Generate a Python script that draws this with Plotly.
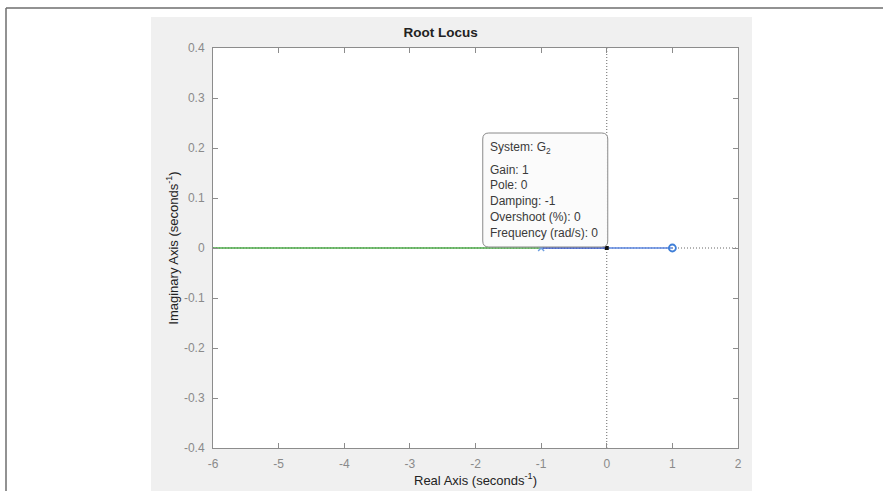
import plotly.graph_objects as go

# Root locus of G2: branches along the real axis, open-loop pole and zero
branch_a_re = [-6, -1]
branch_a_im = [0, 0]
branch_b_re = [-1, 0]
branch_b_im = [0, 0]
branch_c_re = [0, 1]
branch_c_im = [0, 0]
pole_re = [-1]
pole_im = [0]
zero_re = [1]
zero_im = [0]

# Data tip at the selected locus point
tip_re = [0]
tip_im = [0]
tip_lines = [
    "System: G<sub>2</sub>",
    "Gain: 1",
    "Pole: 0",
    "Damping: -1",
    "Overshoot (%): 0",
    "Frequency (rad/s): 0",
]

x_ticks = [-6, -5, -4, -3, -2, -1, 0, 1, 2]
x_tick_text = ["-6", "-5", "-4", "-3", "-2", "-1", "0", "1", "2"]
y_ticks = [-0.4, -0.3, -0.2, -0.1, 0, 0.1, 0.2, 0.3, 0.4]
y_tick_text = ["-0.4", "-0.3", "-0.2", "-0.1", "0", "0.1", "0.2", "0.3", "0.4"]

W, H = 883, 491
L, R, T, B = 213, 738, 48, 448  # plot area in pixels


def px(x):
    return (x - L) / (R - L)


def py(y):
    return (B - y) / (B - T)


FONT = "Liberation Sans, Arial, Helvetica, sans-serif"

fig = go.Figure()

# dotted real / imaginary axis lines
fig.add_trace(go.Scatter(x=[-6, 2], y=[0, 0], mode="lines",
                         line=dict(color="#666666", width=1, dash="1px,2px"),
                         hoverinfo="skip", showlegend=False))
fig.add_trace(go.Scatter(x=[0, 0], y=[-0.4, 0.4], mode="lines",
                         line=dict(color="#666666", width=1, dash="1px,2px"),
                         hoverinfo="skip", showlegend=False))

fig.add_trace(go.Scatter(x=branch_a_re, y=branch_a_im, mode="lines",
                         line=dict(color="#4caa48", width=1.6), showlegend=False))
fig.add_trace(go.Scatter(x=branch_c_re, y=branch_c_im, mode="lines",
                         line=dict(color="#5b86e0", width=1.6), showlegend=False))
fig.add_trace(go.Scatter(x=branch_b_re, y=branch_b_im, mode="lines",
                         line=dict(color="#2f52c8", width=1.6), showlegend=False))
fig.add_trace(go.Scatter(x=pole_re, y=pole_im, mode="markers",
                         marker=dict(symbol="x-thin", size=6, color="#6f9fe0",
                                     line=dict(color="#6f9fe0", width=1.5)),
                         showlegend=False))
fig.add_trace(go.Scatter(x=zero_re, y=zero_im, mode="markers",
                         marker=dict(symbol="circle-open", size=7, color="#3f7fd8",
                                     line=dict(color="#3f7fd8", width=1.8)),
                         showlegend=False))
fig.add_trace(go.Scatter(x=tip_re, y=tip_im, mode="markers",
                         marker=dict(symbol="square", size=4, color="#111111"),
                         showlegend=False))

shapes = [
    # grey figure window
    dict(type="rect", xref="paper", yref="paper", layer="below",
         x0=px(151), x1=px(752), y0=py(17), y1=py(491),
         fillcolor="#f0f0f0", line=dict(width=0)),
    # white axes background
    dict(type="rect", xref="paper", yref="paper", layer="below",
         x0=0, x1=1, y0=0, y1=1, fillcolor="white", line=dict(width=0)),
    # page border lines
    dict(type="line", xref="paper", yref="paper",
         x0=px(6), x1=px(883), y0=py(8), y1=py(8),
         line=dict(color="#6e6e6e", width=1.5)),
    dict(type="line", xref="paper", yref="paper",
         x0=px(6), x1=px(6), y0=py(8), y1=py(491),
         line=dict(color="#6e6e6e", width=1.5)),
]

# rounded data tip box anchored at the selected point (pixel offsets)
bx0, bx1, by0, by1, r = -124, 1, 1, 115, 6
path = (f"M {bx0 + r},{by0} L {bx1 - r},{by0} Q {bx1},{by0} {bx1},{by0 + r} "
        f"L {bx1},{by1 - r} Q {bx1},{by1} {bx1 - r},{by1} "
        f"L {bx0 + r},{by1} Q {bx0},{by1} {bx0},{by1 - r} "
        f"L {bx0},{by0 + r} Q {bx0},{by0} {bx0 + r},{by0} Z")
shapes.append(dict(type="path", path=path, xref="x", yref="y",
                   xsizemode="pixel", ysizemode="pixel",
                   xanchor=tip_re[0], yanchor=tip_im[0],
                   fillcolor="rgba(251,251,251,0.97)",
                   line=dict(color="#8a8a8a", width=1)))

annotations = []
line_offsets = [100, 78, 63, 47, 31, 15]
for text, dy in zip(tip_lines, line_offsets):
    annotations.append(dict(x=tip_re[0], y=tip_im[0], xref="x", yref="y",
                            text=text, showarrow=False, xanchor="left",
                            yanchor="middle", xshift=-119, yshift=dy,
                            font=dict(family=FONT, size=12, color="#3a3a3a")))

axis_common = dict(showline=True, linecolor="#8c8c8c", linewidth=1,
                   mirror="allticks", ticks="inside", ticklen=5,
                   tickcolor="#8c8c8c", showgrid=False, zeroline=False,
                   ticklabelstandoff=5, automargin=False,
                   tickfont=dict(family=FONT, size=12, color="#8a8a8a"))

fig.update_layout(
    width=W, height=H,
    margin=dict(l=L, r=W - R, t=T, b=H - B, pad=0, autoexpand=False),
    paper_bgcolor="white", plot_bgcolor="white",
    title=dict(text="<b>Root Locus</b>", x=px(475), xanchor="center",
               y=1 - 32 / H, yanchor="middle",
               font=dict(family=FONT, size=13.5, color="#222222")),
    xaxis=dict(range=[-6, 2], tickvals=x_ticks, ticktext=x_tick_text,
               title=dict(text="Real Axis (seconds<sup>-1</sup>)", standoff=4,
                          font=dict(family=FONT, size=13, color="#222222")),
               **axis_common),
    yaxis=dict(range=[-0.4, 0.4], tickvals=y_ticks, ticktext=y_tick_text,
               title=dict(text="Imaginary Axis (seconds<sup>-1</sup>)", standoff=2,
                          font=dict(family=FONT, size=13, color="#222222")),
               **axis_common),
    shapes=shapes,
    annotations=annotations,
    hovermode=False,
)

fig.write_html("out.html")
